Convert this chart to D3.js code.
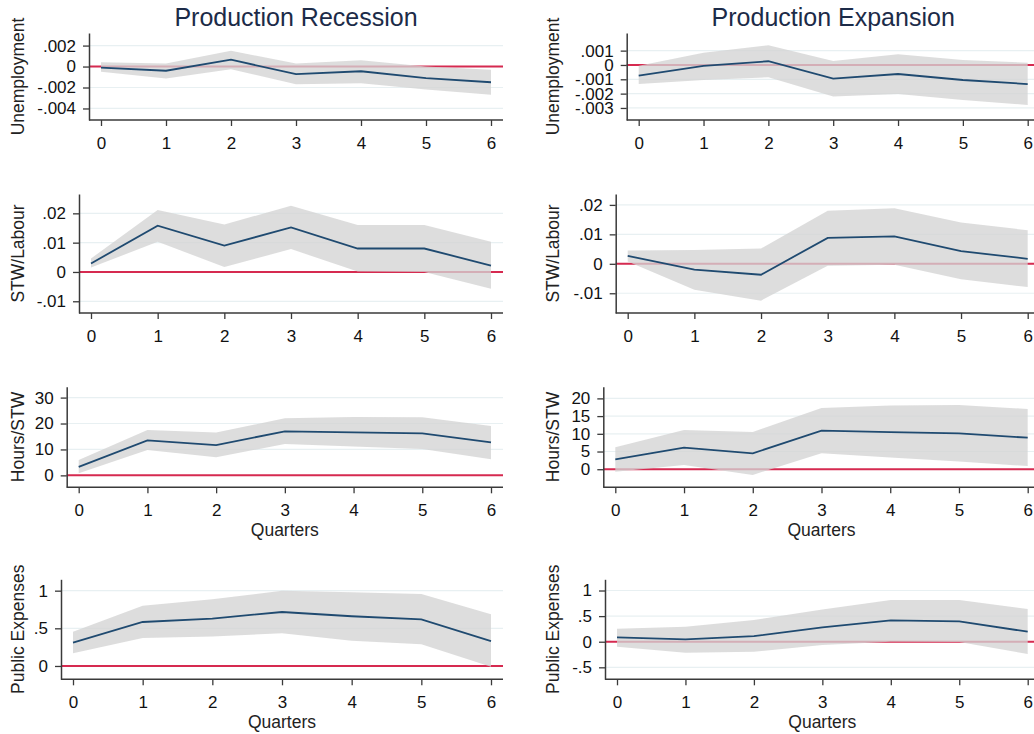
<!DOCTYPE html>
<html>
<head>
<meta charset="utf-8">
<script src="https://cdn.jsdelivr.net/npm/d3@7"></script>
<style>
  body { margin: 0; background: #fff; }
  svg { display: block; overflow: hidden; font-family: "Liberation Sans", Arial, sans-serif; }
</style>
</head>
<body>
<div id="chart"></div>
<script>
// horizon (quarters) shared by all panels
const quarters = [0, 1, 2, 3, 4, 5, 6];

// Unemployment
const unempRecIrf = [-0.0001, -0.0004, 0.00065, -0.00073, -0.00045, -0.0011, -0.0015];
const unempRecLo  = [-0.0005, -0.00114, -0.00026, -0.0017, -0.0016, -0.0022, -0.0027];
const unempRecHi  = [0.0004, 0.0003, 0.0015, 0.0003, 0.0006, 0.0, -0.0003];
const unempExpIrf = [-0.00074, -0.00007, 0.00026, -0.00095, -0.00063, -0.00105, -0.00133];
const unempExpLo  = [-0.00133, -0.00105, -0.00086, -0.0022, -0.00202, -0.00244, -0.00279];
const unempExpHi  = [-0.00005, 0.00086, 0.00137, 0.00028, 0.00075, 0.00035, 0.00016];

// STW / Labour
const stwRecIrf = [0.0029, 0.0158, 0.009, 0.0152, 0.008, 0.008, 0.0022];
const stwRecLo  = [0.0015, 0.0103, 0.0017, 0.0078, 0.0002, 0.0, -0.0057];
const stwRecHi  = [0.0046, 0.0211, 0.0162, 0.0226, 0.016, 0.016, 0.0103];
const stwExpIrf = [0.0027, -0.002, -0.0037, 0.0088, 0.0093, 0.0043, 0.0017];
const stwExpLo  = [0.0008, -0.0088, -0.0125, -0.0007, -0.0003, -0.0052, -0.0079];
const stwExpHi  = [0.0045, 0.0047, 0.0052, 0.018, 0.0189, 0.014, 0.0114];

// Hours / STW
const hoursRecIrf = [3.3, 13.5, 11.7, 17.0, 16.6, 16.2, 12.7];
const hoursRecLo  = [0.8, 9.8, 7.0, 12.1, 11.1, 10.2, 6.2];
const hoursRecHi  = [5.9, 17.5, 16.5, 22.0, 22.5, 22.4, 19.0];
const hoursExpIrf = [2.8, 6.1, 4.5, 10.9, 10.5, 10.1, 8.9];
const hoursExpLo  = [-0.7, 1.2, -1.6, 4.5, 3.3, 2.2, 0.9];
const hoursExpHi  = [6.2, 11.1, 10.5, 17.3, 18.0, 18.1, 17.0];

// Public expenses
const pubRecIrf = [0.31, 0.584, 0.63, 0.717, 0.66, 0.62, 0.33];
const pubRecLo  = [0.17, 0.37, 0.39, 0.434, 0.336, 0.288, -0.01];
const pubRecHi  = [0.456, 0.80, 0.885, 1.0, 0.978, 0.956, 0.686];
const pubExpIrf = [0.085, 0.046, 0.11, 0.28, 0.417, 0.397, 0.195];
const pubExpLo  = [-0.098, -0.215, -0.195, -0.065, 0.0, -0.007, -0.24];
const pubExpHi  = [0.254, 0.293, 0.423, 0.63, 0.814, 0.814, 0.638];

// y tick labels
const unempRecTicks = [0.002, 0, -0.002, -0.004];
const unempExpTicks = [0.001, 0, -0.001, -0.002, -0.003];
const stwTicks      = [0.02, 0.01, 0, -0.01];
const hoursRecTicks = [30, 20, 10, 0];
const hoursExpTicks = [20, 15, 10, 5, 0];
const pubRecTicks   = [1, 0.5, 0];
const pubExpTicks   = [1, 0.5, 0, -0.5];

const colTitles = ["Production Recession", "Production Expansion"];
const rowLabels = ["Unemployment", "STW/Labour", "Hours/STW", "Public Expenses"];

document.addEventListener('DOMContentLoaded', () => {
    const width = 1034, height = 734;
    const pad = 12;                       // gap between axis and first/last quarter
    const colX6 = [491, 1027.7];          // x of quarter 6 per column
    const colLabelX = [24, 559];          // baseline of rotated y titles
    const rows = [
        { top: 33,    bottom: 120 },
        { top: 194,   bottom: 313 },
        { top: 386.7, bottom: 487.3, quarters: true },
        { top: 579.3, bottom: 679.3, quarters: true }
    ];

    const panels = [
        { row: 0, col: 0, axisX: 89,    dom: [-0.0051, 0.0032],  ticks: unempRecTicks, irf: unempRecIrf, lo: unempRecLo, hi: unempRecHi },
        { row: 0, col: 1, axisX: 626.7, dom: [-0.00384, 0.00223], ticks: unempExpTicks, irf: unempExpIrf, lo: unempExpLo, hi: unempExpHi },
        { row: 1, col: 0, axisX: 79,    dom: [-0.014, 0.0266],   ticks: stwTicks, irf: stwRecIrf, lo: stwRecLo, hi: stwRecHi },
        { row: 1, col: 1, axisX: 615.7, dom: [-0.0167, 0.0237],  ticks: stwTicks, irf: stwExpIrf, lo: stwExpLo, hi: stwExpHi },
        { row: 2, col: 0, axisX: 66.7,  dom: [-4.6, 34.2],       ticks: hoursRecTicks, irf: hoursRecIrf, lo: hoursRecLo, hi: hoursRecHi },
        { row: 2, col: 1, axisX: 603.3, dom: [-5.1, 23.3],       ticks: hoursExpTicks, irf: hoursExpIrf, lo: hoursExpLo, hi: hoursExpHi },
        { row: 3, col: 0, axisX: 61,    dom: [-0.177, 1.151],    ticks: pubRecTicks, irf: pubRecIrf, lo: pubRecLo, hi: pubRecHi },
        { row: 3, col: 1, axisX: 605,   dom: [-0.734, 1.219],    ticks: pubExpTicks, irf: pubExpIrf, lo: pubExpLo, hi: pubExpHi }
    ];

    // Stata style numbers: .002, -.5
    const fmt = v => v === 0 ? "0" : String(v).replace(/^(-?)0\./, "$1.");

    const svg = d3.select("#chart").append("svg")
        .attr("width", width)
        .attr("height", height);

    panels.forEach(p => {
        const r = rows[p.row];
        const x6 = colX6[p.col];
        const right = x6 + pad;

        const x = d3.scaleLinear().domain([0, 6]).range([p.axisX + pad, x6]);
        const y = d3.scaleLinear().domain(p.dom).range([r.bottom, r.top]);

        const g = svg.append("g");

        // grid
        g.selectAll("line.grid")
            .data(p.ticks)
            .enter().append("line")
            .attr("class", "grid")
            .attr("x1", p.axisX).attr("x2", right)
            .attr("y1", d => y(d)).attr("y2", d => y(d))
            .attr("stroke", "#e8f0f2")
            .attr("stroke-width", 1.2);

        // zero reference
        g.append("line")
            .attr("x1", p.axisX).attr("x2", right)
            .attr("y1", y(0)).attr("y2", y(0))
            .attr("stroke", "#d62a50")
            .attr("stroke-width", 2);

        const rowsData = quarters.map((q, i) => ({ q, v: p.irf[i], lo: p.lo[i], hi: p.hi[i] }));

        // confidence band
        g.append("path")
            .datum(rowsData)
            .attr("fill", "#d4d4d4")
            .attr("fill-opacity", 0.78)
            .attr("d", d3.area()
                .x(d => x(d.q))
                .y0(d => y(d.lo))
                .y1(d => y(d.hi)));

        // impulse response
        g.append("path")
            .datum(rowsData)
            .attr("fill", "none")
            .attr("stroke", "#1f4a70")
            .attr("stroke-width", 1.8)
            .attr("d", d3.line()
                .x(d => x(d.q))
                .y(d => y(d.v)));

        // y axis
        const yAxis = g.append("g")
            .attr("transform", `translate(${p.axisX},0)`)
            .call(d3.axisLeft(y)
                .tickValues(p.ticks)
                .tickFormat(fmt)
                .tickSize(6)
                .tickSizeOuter(0)
                .tickPadding(7));

        // x axis
        const xAxis = g.append("g")
            .attr("transform", `translate(0,${r.bottom})`)
            .call(d3.axisBottom(x)
                .tickValues(quarters)
                .tickFormat(d3.format("d"))
                .tickSize(6)
                .tickPadding(11));
        xAxis.select(".domain").remove();
        g.append("line")
            .attr("x1", p.axisX).attr("x2", right)
            .attr("y1", r.bottom).attr("y2", r.bottom)
            .attr("stroke", "#3a3a3a")
            .attr("stroke-width", 1.5);

        [yAxis, xAxis].forEach(a => {
            a.selectAll(".domain").attr("stroke", "#3a3a3a").attr("stroke-width", 1.5);
            a.selectAll(".tick line").attr("stroke", "#3a3a3a").attr("stroke-width", 1.3);
            a.selectAll(".tick text")
                .attr("fill", "#111")
                .style("font-size", "17px")
                .style("font-family", "'Liberation Sans', Arial, sans-serif");
        });

        // y title
        g.append("text")
            .attr("transform", `translate(${colLabelX[p.col]},${(r.top + r.bottom) / 2}) rotate(-90)`)
            .attr("text-anchor", "middle")
            .attr("fill", "#222")
            .style("font-size", "17.5px")
            .text(rowLabels[p.row]);

        if (r.quarters) {
            g.append("text")
                .attr("x", (p.axisX + right) / 2)
                .attr("y", r.bottom + 48.5)
                .attr("text-anchor", "middle")
                .attr("fill", "#222")
                .style("font-size", "17.5px")
                .text("Quarters");
        }

        if (p.row === 0) {
            g.append("text")
                .attr("x", (p.axisX + right) / 2)
                .attr("y", 26)
                .attr("text-anchor", "middle")
                .attr("fill", "#1c2b48")
                .style("font-size", "25px")
                .text(colTitles[p.col]);
        }
    });
});
</script>
</body>
</html>
